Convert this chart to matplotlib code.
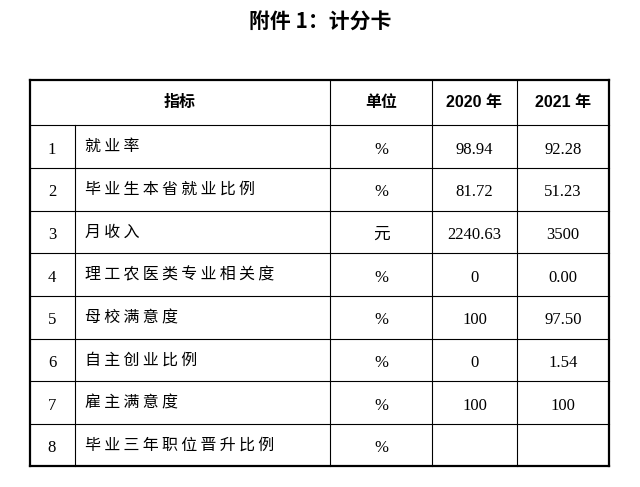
import matplotlib.pyplot as plt

plt.rcParams['font.family'] = ['Liberation Serif', 'Noto Sans CJK SC']

# 表格数据
title = "附件 1：计分卡"
headers = ["指标", "单位", "2020 年", "2021 年"]
row_no = ["1", "2", "3", "4", "5", "6", "7", "8"]
indicators = ["就业率", "毕业生本省就业比例", "月收入", "理工农医类专业相关度",
              "母校满意度", "自主创业比例", "雇主满意度", "毕业三年职位晋升比例"]
units = ["%", "%", "元", "%", "%", "%", "%", "%"]
v2020 = ["98.94", "81.72", "2240.63", "0", "100", "0", "100", ""]
v2021 = ["92.28", "51.23", "3500", "0.00", "97.50", "1.54", "100", ""]

# 版面（像素坐标）
col_x = [30, 75, 330, 432, 517, 609]
row_y = [80, 125, 168, 211, 253, 296, 339, 381, 424, 466]

fig = plt.figure(figsize=(6.4, 4.87), dpi=100)
ax = fig.add_axes([0, 0, 1, 1])
ax.set_xlim(0, 640)
ax.set_ylim(487, 0)
ax.axis("off")

ax.text(320, 22, title, ha="center", va="center", fontsize=15, fontweight="bold",
        family=['Noto Sans CJK SC'])

# 网格线
for i, y in enumerate(row_y):
    lw = 1.6 if i in (0, len(row_y) - 1) else 0.8
    ax.plot([col_x[0], col_x[-1]], [y, y], color="black", lw=lw)
for j, x in enumerate(col_x):
    lw = 1.6 if j in (0, len(col_x) - 1) else 0.8
    y0 = row_y[1] if j == 1 else row_y[0]
    ax.plot([x, x], [y0, row_y[-1]], color="black", lw=lw)

# 表头
hx = [(col_x[0] + col_x[2]) / 2, (col_x[2] + col_x[3]) / 2,
      (col_x[3] + col_x[4]) / 2, (col_x[4] + col_x[5]) / 2]
hy = (row_y[0] + row_y[1]) / 2
for x, h in zip(hx, headers):
    ax.text(x, hy, h, ha="center", va="center", fontsize=11.5, fontweight="bold",
            family=['Liberation Sans', 'Noto Sans CJK SC'])

# 数据行
for i in range(len(row_no)):
    y = (row_y[i + 1] + row_y[i + 2]) / 2
    ax.text(col_x[0] + 22, y + 3, row_no[i], ha="center", va="center", fontsize=12)
    ax.text(col_x[1] + 10, y, "\u2009".join(indicators[i]), ha="left", va="center",
            fontsize=11.5, family=['Noto Sans CJK SC', 'DejaVu Sans'])
    ax.text(hx[1], y + 3, units[i], ha="center", va="center", fontsize=12)
    ax.text(hx[2], y + 3, v2020[i], ha="center", va="center", fontsize=12)
    ax.text(hx[3], y + 3, v2021[i], ha="center", va="center", fontsize=12)

fig.savefig("out.png", dpi=100)
